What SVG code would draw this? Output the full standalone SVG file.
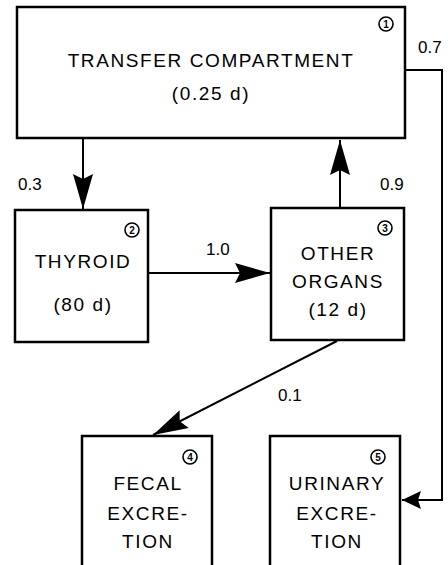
<svg xmlns="http://www.w3.org/2000/svg" width="448" height="565" viewBox="0 0 448 565">
<style>
.box{fill:#fff;stroke:#000;stroke-width:2.5}
.t{font-family:"Liberation Sans",Arial,sans-serif;font-size:19px;letter-spacing:1.6px;fill:#000;text-anchor:middle}
.lbl{font-family:"Liberation Sans",Arial,sans-serif;font-size:17px;fill:#000}
.num{fill:none;stroke:#000;stroke-width:1.6}
.nt{font-family:"Liberation Sans",Arial,sans-serif;font-size:10px;font-weight:bold;fill:#000;text-anchor:middle}
.c{fill:none;stroke:#000;stroke-width:2}
</style>
<defs>
<marker id="big" markerUnits="userSpaceOnUse" viewBox="-36 -11 37 22" refX="0" refY="0" markerWidth="37" markerHeight="22" orient="auto">
<path d="M0,0 L-35,-10 L-30,0 L-35,10 Z" fill="#000"/>
</marker>
<marker id="small" markerUnits="userSpaceOnUse" viewBox="-20 -10 21 20" refX="0" refY="0" markerWidth="21" markerHeight="20" orient="auto">
<path d="M0,0 L-19,-9 L-16,0 L-19,9 Z" fill="#000"/>
</marker>
</defs>
<g id="connectors">
<line class="c" x1="83" y1="139" x2="83" y2="209" marker-end="url(#big)"/>
<line class="c" x1="340" y1="208" x2="340" y2="140" marker-end="url(#big)"/>
<line class="c" x1="149" y1="273" x2="270" y2="273" marker-end="url(#big)"/>
<line class="c" x1="337" y1="341" x2="153" y2="435" marker-end="url(#big)"/>
<polyline class="c" points="405,70 442,70 442,500 402,500" marker-end="url(#small)"/>
<text class="lbl" x="18" y="190">0.3</text>
<text class="lbl" x="380" y="190">0.9</text>
<text class="lbl" x="418" y="53">0.7</text>
<text class="lbl" x="206" y="255">1.0</text>
<text class="lbl" x="278" y="401">0.1</text>
</g>
<g id="node1">
<rect class="box" x="17" y="7" width="388" height="131"/>
<text class="t" x="211" y="67">TRANSFER  COMPARTMENT</text>
<text class="t" x="211" y="100">(0.25  d)</text>
<circle class="num" cx="386" cy="24" r="7"/>
<text class="nt" x="386" y="27.5">1</text>
</g>
<g id="node2">
<rect class="box" x="15" y="210" width="133" height="132"/>
<text class="t" x="83" y="268">THYROID</text>
<text class="t" x="83" y="311">(80  d)</text>
<circle class="num" cx="132" cy="230" r="7"/>
<text class="nt" x="132" y="233.5">2</text>
</g>
<g id="node3">
<rect class="box" x="271" y="208" width="133" height="132"/>
<text class="t" x="338" y="260">OTHER</text>
<text class="t" x="338" y="288">ORGANS</text>
<text class="t" x="338" y="316">(12  d)</text>
<circle class="num" cx="385" cy="228" r="7"/>
<text class="nt" x="385" y="231.5">3</text>
</g>
<g id="node4">
<rect class="box" x="82" y="436" width="130" height="135"/>
<text class="t" x="148" y="490">FECAL</text>
<text class="t" x="148" y="520">EXCRE-</text>
<text class="t" x="148" y="548">TION</text>
<circle class="num" cx="190" cy="457" r="7"/>
<text class="nt" x="190" y="460.5">4</text>
</g>
<g id="node5">
<rect class="box" x="270" y="436" width="130" height="135"/>
<text class="t" x="337" y="490">URINARY</text>
<text class="t" x="337" y="520">EXCRE-</text>
<text class="t" x="337" y="548">TION</text>
<circle class="num" cx="378" cy="457" r="7"/>
<text class="nt" x="378" y="460.5">5</text>
</g>
</svg>
